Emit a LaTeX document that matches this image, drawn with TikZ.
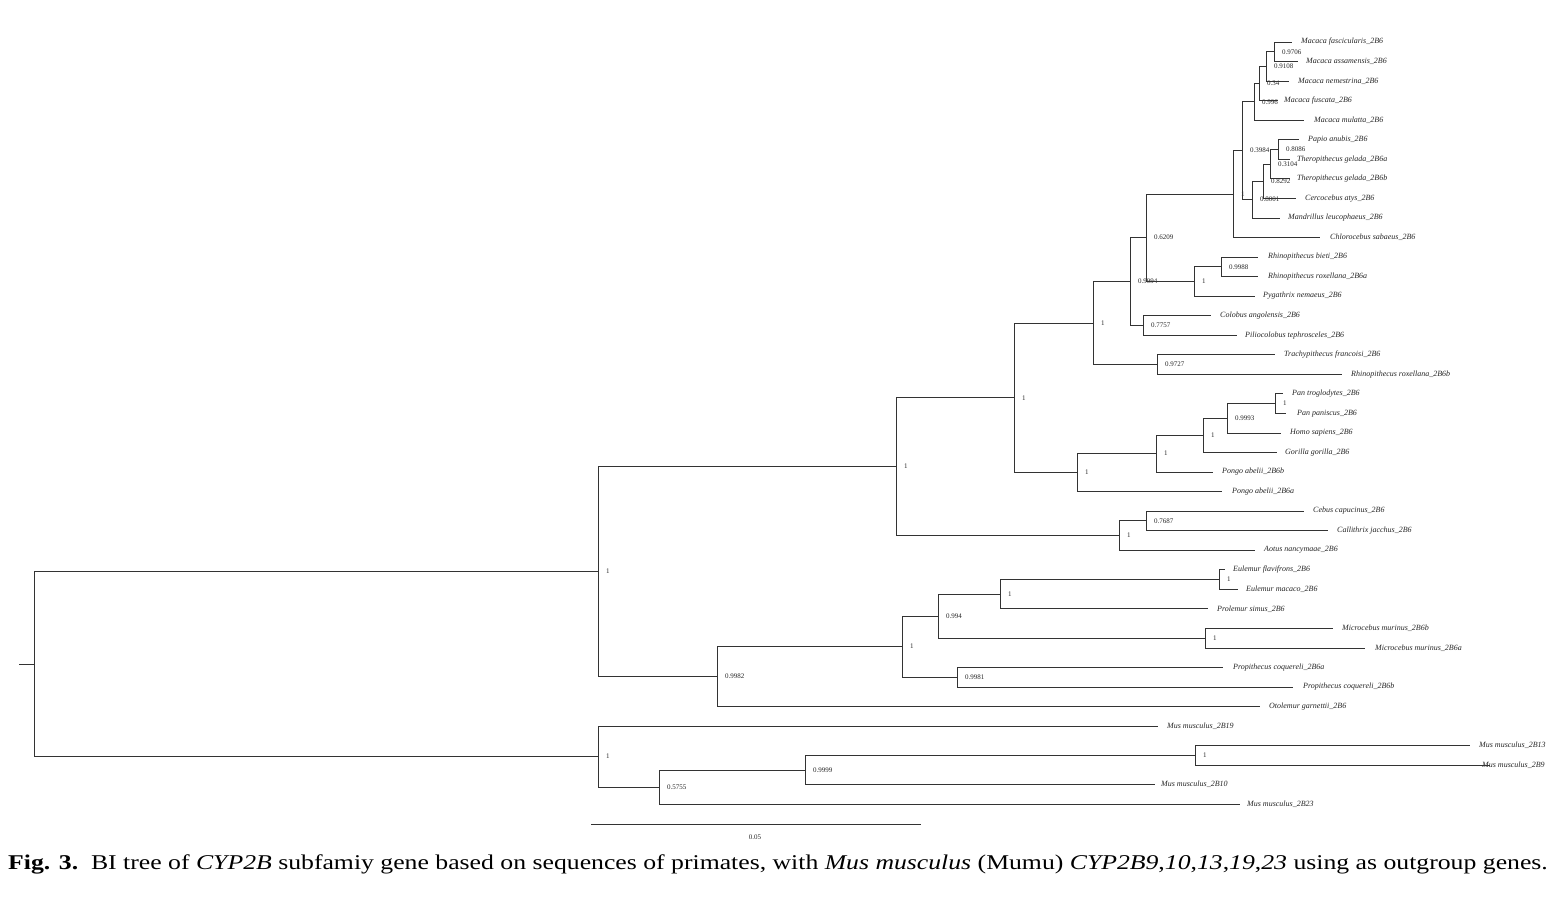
\documentclass[tikz,border=0pt]{standalone}
\usepackage{fontspec}
\setmainfont{Liberation Serif}
\newcommand\mkleaf[5]{\coordinate (t#1) at (#3,#2);\node[leaf] (l#1) at (#4,#2) {#5};}
\newcommand\mkint[4]{\coordinate (#1) at (#2,#3);\node[bs] (b#1) at (#1) {#4};}
\begin{document}
\begin{tikzpicture}[x=1pt,y=-1pt,
  br/.style={draw=black!80, line width=0.8pt},
  leaf/.style={anchor=west, inner sep=0pt, font=\fontsize{8}{9}\selectfont\itshape, text=black!85},
  bs/.style={anchor=west, inner sep=0pt, xshift=8pt, font=\fontsize{7}{8}\selectfont, text=black!85}]
\useasboundingbox (0,0) rectangle (1558,899);
% leaves
\mkleaf{1}{42}{1292}{1301}{Macaca fascicularis\_2B6}
\mkleaf{2}{61.5}{1298}{1306}{Macaca assamensis\_2B6}
\mkleaf{3}{81}{1289}{1298}{Macaca nemestrina\_2B6}
\mkleaf{4}{100.6}{1278}{1284}{Macaca fuscata\_2B6}
\mkleaf{5}{120}{1304}{1314}{Macaca mulatta\_2B6}
\mkleaf{6}{139.7}{1299}{1308}{Papio anubis\_2B6}
\mkleaf{7}{159.2}{1290}{1297}{Theropithecus gelada\_2B6a}
\mkleaf{8}{178.8}{1290}{1297}{Theropithecus gelada\_2B6b}
\mkleaf{9}{198.3}{1296}{1305}{Cercocebus atys\_2B6}
\mkleaf{10}{217.9}{1280}{1288}{Mandrillus leucophaeus\_2B6}
\mkleaf{11}{237.4}{1320}{1330}{Chlorocebus sabaeus\_2B6}
\mkleaf{12}{257}{1258}{1268}{Rhinopithecus bieti\_2B6}
\mkleaf{13}{276.5}{1258}{1268}{Rhinopithecus roxellana\_2B6a}
\mkleaf{14}{296}{1255}{1263}{Pygathrix nemaeus\_2B6}
\mkleaf{15}{315.6}{1211}{1220}{Colobus angolensis\_2B6}
\mkleaf{16}{335.2}{1237}{1245}{Piliocolobus tephrosceles\_2B6}
\mkleaf{17}{354.7}{1275}{1284}{Trachypithecus francoisi\_2B6}
\mkleaf{18}{374.2}{1342}{1351}{Rhinopithecus roxellana\_2B6b}
\mkleaf{19}{393.8}{1283}{1292}{Pan troglodytes\_2B6}
\mkleaf{20}{413.3}{1286}{1297}{Pan paniscus\_2B6}
\mkleaf{21}{432.9}{1281}{1290}{Homo sapiens\_2B6}
\mkleaf{22}{452.4}{1277}{1285}{Gorilla gorilla\_2B6}
\mkleaf{23}{472}{1213}{1222}{Pongo abelii\_2B6b}
\mkleaf{24}{491.5}{1222}{1232}{Pongo abelii\_2B6a}
\mkleaf{25}{511}{1304}{1313}{Cebus capucinus\_2B6}
\mkleaf{26}{530.6}{1328}{1337}{Callithrix jacchus\_2B6}
\mkleaf{27}{550.2}{1255}{1264}{Aotus nancymaae\_2B6}
\mkleaf{28}{569.7}{1225}{1233}{Eulemur flavifrons\_2B6}
\mkleaf{29}{589.3}{1238}{1246}{Eulemur macaco\_2B6}
\mkleaf{30}{608.8}{1208}{1217}{Prolemur simus\_2B6}
\mkleaf{31}{628.3}{1333}{1342}{Microcebus murinus\_2B6b}
\mkleaf{32}{647.9}{1365}{1375}{Microcebus murinus\_2B6a}
\mkleaf{33}{667.4}{1223}{1233}{Propithecus coquereli\_2B6a}
\mkleaf{34}{687}{1293}{1303}{Propithecus coquereli\_2B6b}
\mkleaf{35}{706.5}{1260}{1269}{Otolemur garnettii\_2B6}
\mkleaf{36}{726}{1158}{1167}{Mus musculus\_2B19}
\mkleaf{37}{745.6}{1470}{1479}{Mus musculus\_2B13}
\mkleaf{38}{765.2}{1490}{1482}{Mus musculus\_2B9}
\mkleaf{39}{784.7}{1155}{1161}{Mus musculus\_2B10}
\mkleaf{40}{804.3}{1240}{1247}{Mus musculus\_2B23}
% internal nodes
\mkint{A}{1274}{51.75}{0.9706}
\mkint{B}{1266}{66.4}{0.9108}
\mkint{C}{1259}{83.5}{0.34}
\mkint{D}{1254}{101.75}{0.996}
\mkint{J}{1278}{149.45}{0.8086}
\mkint{I}{1270}{164.1}{0.3104}
\mkint{H}{1263}{181.2}{0.8292}
\mkint{G}{1252}{199.55}{0.8001}
\mkint{E}{1242}{150.65}{0.3984}
\mkint{F}{1233}{194}{1}
\mkint{M}{1221}{266.75}{0.9988}
\mkint{L}{1194}{281.4}{1}
\mkint{K}{1146}{237.7}{0.6209}
\mkint{O}{1143}{325.4}{0.7757}
\mkint{N}{1130}{281.55}{0.9994}
\mkint{Q}{1157}{364.45}{0.9727}
\mkint{P}{1093}{323}{1}
\mkint{W}{1275}{403.55}{1}
\mkint{V}{1227}{418.2}{0.9993}
\mkint{U}{1203}{435.3}{1}
\mkint{T}{1156}{453.65}{1}
\mkint{S}{1077}{472.6}{1}
\mkint{R}{1014}{397.8}{1}
\mkint{Z}{1146}{520.8}{0.7687}
\mkint{Y}{1119}{535.5}{1}
\mkint{X}{896}{466.65}{1}
\mkint{AE}{1219}{579.5}{1}
\mkint{AA}{1000}{594.15}{1}
\mkint{CC}{1205}{638.1}{1}
\mkint{BB}{938}{616.1}{0.994}
\mkint{EE}{957}{677.2}{0.9981}
\mkint{DD}{902}{646.65}{1}
\mkint{FF}{717}{676.6}{0.9982}
\mkint{GG}{598}{571.6}{1}
\mkint{KK}{1195}{755.4}{1}
\mkint{JJ}{805}{770}{0.9999}
\mkint{II}{659}{787.2}{0.5755}
\mkint{HH}{598}{756.6}{1}
\coordinate (root) at (34,664.1);
\coordinate (stub) at (19,664.1);
% branches
\draw[br] (A) |- (t1); \draw[br] (A) |- (t2);
\draw[br] (B) |- (A); \draw[br] (B) |- (t3);
\draw[br] (C) |- (B); \draw[br] (C) |- (t4);
\draw[br] (D) |- (C); \draw[br] (D) |- (t5);
\draw[br] (J) |- (t6); \draw[br] (J) |- (t7);
\draw[br] (I) |- (J); \draw[br] (I) |- (t8);
\draw[br] (H) |- (I); \draw[br] (H) |- (t9);
\draw[br] (G) |- (H); \draw[br] (G) |- (t10);
\draw[br] (E) |- (D); \draw[br] (E) |- (G);
\draw[br] (F) |- (E); \draw[br] (F) |- (t11);
\draw[br] (M) |- (t12); \draw[br] (M) |- (t13);
\draw[br] (L) |- (M); \draw[br] (L) |- (t14);
\draw[br] (K) |- (F); \draw[br] (K) |- (L);
\draw[br] (O) |- (t15); \draw[br] (O) |- (t16);
\draw[br] (N) |- (K); \draw[br] (N) |- (O);
\draw[br] (Q) |- (t17); \draw[br] (Q) |- (t18);
\draw[br] (P) |- (N); \draw[br] (P) |- (Q);
\draw[br] (W) |- (t19); \draw[br] (W) |- (t20);
\draw[br] (V) |- (W); \draw[br] (V) |- (t21);
\draw[br] (U) |- (V); \draw[br] (U) |- (t22);
\draw[br] (T) |- (U); \draw[br] (T) |- (t23);
\draw[br] (S) |- (T); \draw[br] (S) |- (t24);
\draw[br] (R) |- (P); \draw[br] (R) |- (S);
\draw[br] (Z) |- (t25); \draw[br] (Z) |- (t26);
\draw[br] (Y) |- (Z); \draw[br] (Y) |- (t27);
\draw[br] (X) |- (R); \draw[br] (X) |- (Y);
\draw[br] (AE) |- (t28); \draw[br] (AE) |- (t29);
\draw[br] (AA) |- (AE); \draw[br] (AA) |- (t30);
\draw[br] (CC) |- (t31); \draw[br] (CC) |- (t32);
\draw[br] (BB) |- (AA); \draw[br] (BB) |- (CC);
\draw[br] (EE) |- (t33); \draw[br] (EE) |- (t34);
\draw[br] (DD) |- (BB); \draw[br] (DD) |- (EE);
\draw[br] (FF) |- (DD); \draw[br] (FF) |- (t35);
\draw[br] (GG) |- (X); \draw[br] (GG) |- (FF);
\draw[br] (KK) |- (t37); \draw[br] (KK) |- (t38);
\draw[br] (JJ) |- (KK); \draw[br] (JJ) |- (t39);
\draw[br] (II) |- (JJ); \draw[br] (II) |- (t40);
\draw[br] (HH) |- (t36); \draw[br] (HH) |- (II);
\draw[br] (root) |- (GG); \draw[br] (root) |- (HH);
\draw[br] (stub) -- (root);
% scale bar
\coordinate (sb1) at (591,824);
\coordinate (sb2) at (921,824);
\draw[br] (sb1) -- (sb2);
\node[inner sep=0pt, font=\fontsize{7}{8}\selectfont, text=black!85] (sblab) at (755,837) {0.05};
% caption
\node[anchor=base west, inner sep=0pt, font=\fontsize{21}{24}\selectfont] (cap) at (8,869) {\scalebox{1.225}[1]{\textbf{Fig. 3.}\enspace BI tree of \textit{CYP2B} subfamiy gene based on sequences of primates, with \textit{Mus musculus} (Mumu) \textit{CYP2B9},\textit{10},\textit{13},\textit{19},\textit{23} using as outgroup genes.}};
\end{tikzpicture}
\end{document}
